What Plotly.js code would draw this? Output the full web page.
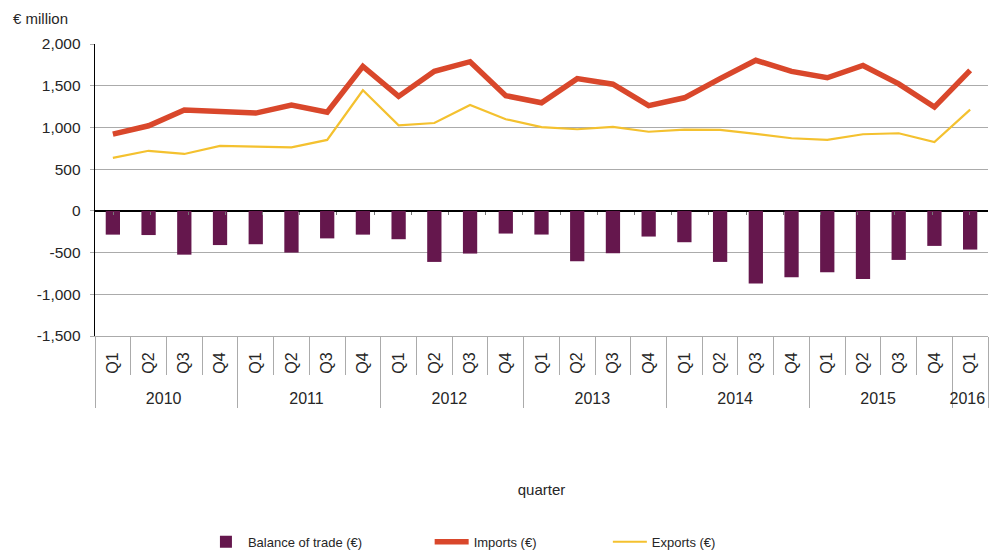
<!DOCTYPE html>
<html><head><meta charset="utf-8">
<script src="https://cdn.plot.ly/plotly-3.0.1.min.js"></script>
<style>html,body{margin:0;padding:0;background:#fff}</style>
</head><body><div id="chart" style="width:990px;height:554px"></div>
<script>
const years = ['2010','2010','2010','2010','2011','2011','2011','2011','2012','2012','2012','2012',
  '2013','2013','2013','2013','2014','2014','2014','2014','2015','2015','2015','2015','2016'];
const quarters = ['Q1','Q2','Q3','Q4','Q1','Q2','Q3','Q4','Q1','Q2','Q3','Q4',
  'Q1','Q2','Q3','Q4','Q1','Q2','Q3','Q4','Q1','Q2','Q3','Q4','Q1'];
const balance = [-285,-290,-525,-410,-400,-500,-330,-285,-340,-612,-512,
  -272,-284,-604,-508,-308,-376,-612,-872,-796,-736,-816,-588,-420,-464];
const imports = [920,1020,1210,1195,1172,1268,1182,1732,1372,1672,1788,
  1380,1295,1585,1518,1262,1355,1585,1805,1672,1595,1742,1522,1244,1684];
const exports = [636,720,682,778,770,762,850,1445,1026,1053,1268,
  1098,1004,978,1006,948,974,970,922,870,850,918,930,826,1214];
const yTickVals = [-1500,-1000,-500,0,500,1000,1500,2000];
const yTickText = ['-1,500','-1,000','-500','0','500','1,000','1,500','2,000'];
const seriesNames = ['Balance of trade (€)','Imports (€)','Exports (€)'];

const FONT = 'Liberation Sans, Arial, sans-serif';
const TXT = '#262626';
const GRID = '#ABABAB';
// padded quarter labels (non-breaking spaces) to leave room between the rotated labels and the axis
const quarterLabels = quarters.map(q => q + '\u00A0\u00A0');
const xCats = [years, quarterLabels];

const traces = [
  {type:'bar', x:xCats, y:balance, name:seriesNames[0], marker:{color:'#65174D'},
   legend:'legend', hoverinfo:'skip'},
  {type:'scatter', mode:'lines', x:xCats, y:imports, name:seriesNames[1],
   line:{color:'#D9472B', width:5.5}, legend:'legend2', hoverinfo:'skip'},
  {type:'scatter', mode:'lines', x:xCats, y:exports, name:seriesNames[2],
   line:{color:'#F4C12F', width:2.2}, legend:'legend3', hoverinfo:'skip'},
  {type:'scatter', mode:'none', x:xCats, y:exports, xaxis:'x2', showlegend:false, hoverinfo:'skip'}
];

const legendBase = {orientation:'h', xref:'container', yref:'container', y:0.022, yanchor:'middle',
  xanchor:'left', font:{family:FONT, size:13, color:TXT}, bgcolor:'rgba(0,0,0,0)', itemwidth:34};

const layout = {
  width:990, height:554,
  margin:{l:95, r:2, t:44, b:218},
  paper_bgcolor:'#fff', plot_bgcolor:'#fff',
  font:{family:FONT, color:TXT, size:15},
  bargap:0.6,
  showlegend:true,
  legend:Object.assign({}, legendBase, {x:0.206}),
  legend2:Object.assign({}, legendBase, {x:0.434}),
  legend3:Object.assign({}, legendBase, {x:0.614}),
  xaxis:{type:'multicategory', tickangle:-90, showgrid:false, zeroline:false,
    showline:true, linecolor:GRID, linewidth:1,
    ticks:'outside', ticklen:38, tickcolor:GRID, tickwidth:1,
    showdividers:true, dividercolor:GRID, dividerwidth:1,
    tickfont:{family:FONT, size:16, color:TXT},
    title:{text:'quarter', standoff:78, font:{family:FONT, size:15, color:TXT}},
    automargin:false, fixedrange:true},
  xaxis2:{type:'multicategory', overlaying:'x', anchor:'free', position:1500/3500, side:'bottom',
    showticklabels:false, showgrid:false, zeroline:false, showline:false, showdividers:false,
    ticks:'outside', ticklen:3, tickcolor:'#777', tickwidth:1, fixedrange:true},
  yaxis:{range:[-1500,2000], tickvals:yTickVals, ticktext:yTickText,
    showgrid:true, gridcolor:GRID, gridwidth:1,
    zeroline:true, zerolinecolor:'#000', zerolinewidth:1.3,
    showline:true, linecolor:'#000', linewidth:1.3,
    ticks:'outside', ticklen:4, tickcolor:GRID, ticklabelstandoff:6,
    tickfont:{family:FONT, size:15.5, color:TXT}, automargin:false, fixedrange:true},
  annotations:[{text:'€ million', xref:'paper', yref:'paper', x:-0.094, y:1.089,
    xanchor:'left', yanchor:'middle', showarrow:false, font:{family:FONT, size:15, color:TXT}}]
};

Plotly.newPlot('chart', traces, layout, {displayModeBar:false, staticPlot:true});
</script></body></html>
